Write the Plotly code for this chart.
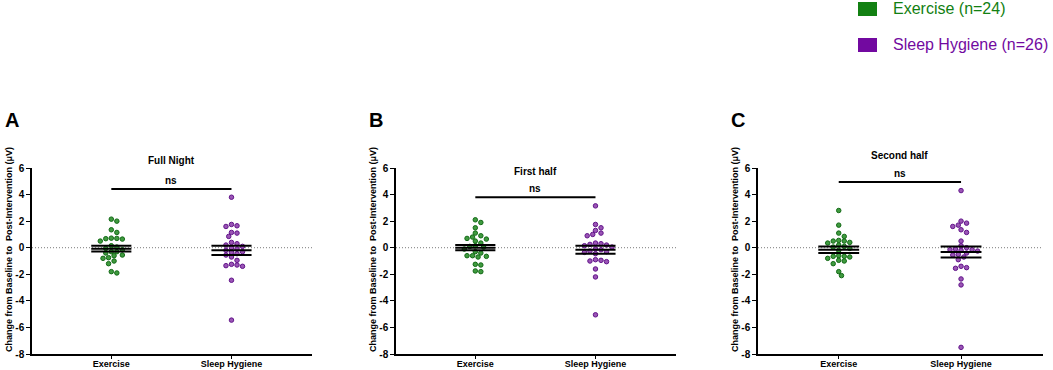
import plotly.graph_objects as go
import numpy as np

# ---------------- data ----------------
categories = ["Exercise", "Sleep Hygiene"]
panel_letters = ["A", "B", "C"]
panel_titles = ["Full Night", "First half", "Second half"]
legend_labels = ["Exercise (n=24)", "Sleep Hygiene (n=26)"]
y_title = "Change from Baseline to  Post-Intervention (μV)"
y_ticks = [6, 4, 2, 0, -2, -4, -6, -8]
y_tick_labels = ["6", "4", "2", "0", "-2", "-4", "-6", "-8"]

ex_full = [2.15, 2.0, 1.35, 1.15, 0.7, 0.68, 0.65, 0.72, 0.5, -0.6, -0.3, 0.15,
           0.05, -0.05, -0.15, -0.3, -0.4, -0.55, -0.75, -0.8, -1.0, -1.2, -1.8, -1.9]
sh_full = [3.8, 1.75, 1.65, 1.6, 1.15, 1.1, 0.85, 0.4, 0.3, 0.2, 0.1, 0.0, -0.1,
           -0.2, -0.3, -0.35, -0.45, -0.55, -0.7, -0.95, -1.25, -1.3, -1.4, -1.35,
           -2.45, -5.45]
ex_first = [2.1, 1.9, 1.5, 1.1, 0.9, 0.8, 0.7, 0.65, 0.5, 0.35, 0.15, 0.1, 0.05,
            -0.1, -0.3, -0.4, -0.6, -0.6, -0.65, -0.7, -1.25, -1.3, -1.75, -1.8]
sh_first = [3.15, 1.75, 1.5, 1.3, 1.0, 1.1, 0.9, 0.3, 0.35, 0.25, 0.2, 0.15, 0.05,
            -0.1, -0.15, -0.25, -0.3, -0.35, -0.45, -0.9, -0.95, -1.0, -1.05, -1.6,
            -2.2, -5.05]
ex_second = [2.8, 1.7, 1.1, 0.85, 0.55, 0.5, 0.5, 0.4, 0.35, 0.2, 0.1, 0.05, -0.05,
             -0.2, -0.6, -0.65, -0.65, -0.7, -0.8, -0.95, -1.0, -1.2, -1.8, -2.1]
sh_second = [4.3, 2.0, 1.85, 1.7, 1.6, 1.35, 1.15, 0.5, 0.15, 0.0, -0.1, -0.15,
             -0.15, -0.2, -0.25, -0.4, -0.5, -0.55, -0.7, -0.9, -1.4, -1.5, -1.55,
             -2.35, -2.8, -7.5]

ex_mean = [-0.07, 0.0, -0.15]
ex_sem = [0.22, 0.2, 0.25]
sh_mean = [-0.2, -0.15, -0.32]
sh_sem = [0.35, 0.3, 0.42]
sig_labels = ["ns", "ns", "ns"]

# ---------------- styling / layout ----------------
W, H = 1053, 370
FONT = "Liberation Sans, Arial, sans-serif"
GREEN_FILL, GREEN_LINE = "#3f9a3f", "#136a16"
PURPLE_FILL, PURPLE_LINE = "#9a55b5", "#62148a"
LEG_GREEN, LEG_PURPLE = "#128012", "#7209a0"

x_domains = [[32 / W, 312 / W], [396 / W, 676 / W], [758 / W, 1043 / W]]
y_domain = [(H - 354) / H, (H - 168) / H]
x_range = [-0.66, 1.67]
y_range = [-8, 6]
bracket_y = [4.42, 3.8, 4.95]
sig_text_y = [5.05, 4.45, 5.6]
title_y = [6.55, 5.75, 6.95]

px_per_y = (354 - 168) / (y_range[1] - y_range[0])


def to_dom(v):
    return (v - y_range[0]) / (y_range[1] - y_range[0])


def swarm(vals, px_per_x, diam=4.6):
    vals = np.asarray(vals, dtype=float)
    order = np.argsort(-vals)
    placed = []
    offs = np.zeros(len(vals))
    cands = [0]
    for k in range(1, 12):
        cands += [k * diam * 0.6, -k * diam * 0.6]
    for i in order:
        yp = vals[i] * px_per_y
        for c in cands:
            if all((c - px) ** 2 + (yp - py) ** 2 >= diam ** 2 for px, py in placed):
                placed.append((c, yp))
                offs[i] = c / px_per_x
                break
    return offs


groups = [(ex_full, sh_full), (ex_first, sh_first), (ex_second, sh_second)]

fig = go.Figure()
layout_axes = {}
shapes = []
annotations = []
half_w = 0.167

for p in range(3):
    xs = "" if p == 0 else str(p + 1)
    xref, yref = "x" + xs, "y" + xs
    dom = x_domains[p]
    px_per_x = (dom[1] - dom[0]) * W / (x_range[1] - x_range[0])

    # zero dotted line
    shapes.append(dict(type="line", xref=xref + " domain", yref=yref,
                       x0=0, x1=1, y0=0, y1=0,
                       line=dict(color="#7a7a7a", width=1, dash="1px,2px"), layer="below"))

    for ci, (vals, fill, lc) in enumerate([(groups[p][0], GREEN_FILL, GREEN_LINE),
                                           (groups[p][1], PURPLE_FILL, PURPLE_LINE)]):
        offs = swarm(vals, px_per_x)
        fig.add_trace(go.Scatter(
            x=ci + offs, y=vals, mode="markers", xaxis=xref, yaxis=yref,
            marker=dict(size=4.5, color=fill, line=dict(color=lc, width=1)),
            showlegend=False, hoverinfo="y"))
        m = [ex_mean, sh_mean][ci][p]
        s = [ex_sem, sh_sem][ci][p]
        for yv in (m + s, m, m - s):
            fig.add_trace(go.Scatter(
                x=[ci - half_w, ci + half_w], y=[yv, yv], mode="lines",
                xaxis=xref, yaxis=yref, line=dict(color="black", width=2),
                showlegend=False, hoverinfo="skip"))

    # significance bracket
    fig.add_trace(go.Scatter(x=[0, 1], y=[bracket_y[p]] * 2, mode="lines",
                             xaxis=xref, yaxis=yref,
                             line=dict(color="black", width=2),
                             showlegend=False, hoverinfo="skip"))
    annotations.append(dict(x=0.5, y=to_dom(sig_text_y[p]), xref=xref, yref=yref + " domain",
                            text=sig_labels[p], showarrow=False, yanchor="middle",
                            font=dict(family=FONT, size=10, color="black", weight="bold")))
    annotations.append(dict(x=0.5, y=to_dom(title_y[p]), xref=xref, yref=yref + " domain",
                            text=panel_titles[p], showarrow=False, yanchor="middle",
                            font=dict(family=FONT, size=10, color="black", weight="bold")))
    # panel letter
    annotations.append(dict(x=dom[0] - 20 / W, y=(H - 120) / H, xref="paper", yref="paper",
                            text=panel_letters[p], showarrow=False, xanchor="center",
                            yanchor="middle",
                            font=dict(family=FONT, size=20, color="black", weight="bold")))
    # y-axis title
    annotations.append(dict(x=dom[0] - 23 / W, y=(H - 250) / H, xref="paper", yref="paper",
                            text=y_title, showarrow=False, textangle=-90,
                            xanchor="center", yanchor="middle",
                            font=dict(family=FONT, size=9, color="black", weight="bold")))

    layout_axes["xaxis" + xs] = dict(
        domain=dom, range=x_range, anchor=yref, tickvals=[0, 1], ticktext=categories,
        showline=True, linecolor="black", linewidth=1.5, ticks="outside", ticklen=3,
        tickcolor="black", showgrid=False, zeroline=False, fixedrange=True,
        automargin=False, ticklabelstandoff=-3,
        tickfont=dict(family=FONT, size=9, color="black", weight="bold"))
    layout_axes["yaxis" + xs] = dict(
        domain=y_domain, range=y_range, anchor=xref, tickvals=y_ticks,
        ticktext=y_tick_labels, showline=True, linecolor="black", linewidth=1.5,
        ticks="outside", ticklen=4, tickcolor="black", showgrid=False, zeroline=False,
        fixedrange=True, automargin=False,
        tickfont=dict(family=FONT, size=10, color="black", weight="bold"))

# legend (manual)
for i, (lab, col) in enumerate(zip(legend_labels, [LEG_GREEN, LEG_PURPLE])):
    ytop = 2 + i * 36
    shapes.append(dict(type="rect", xref="paper", yref="paper",
                       x0=858 / W, x1=877 / W, y0=(H - ytop - 14) / H, y1=(H - ytop) / H,
                       fillcolor=col, line=dict(width=0)))
    annotations.append(dict(x=891 / W, y=(H - ytop - 7) / H, xref="paper", yref="paper",
                            text=lab, showarrow=False, xanchor="left", yanchor="middle",
                            font=dict(family=FONT, size=16, color=col)))

fig.update_layout(
    width=W, height=H, margin=dict(l=0, r=0, t=0, b=0, autoexpand=False),
    paper_bgcolor="white", plot_bgcolor="white",
    shapes=shapes, annotations=annotations, showlegend=False,
    **layout_axes)

fig.write_html("out.html", post_script="document.body.style.margin='0px';",
               config={"displayModeBar": False})
